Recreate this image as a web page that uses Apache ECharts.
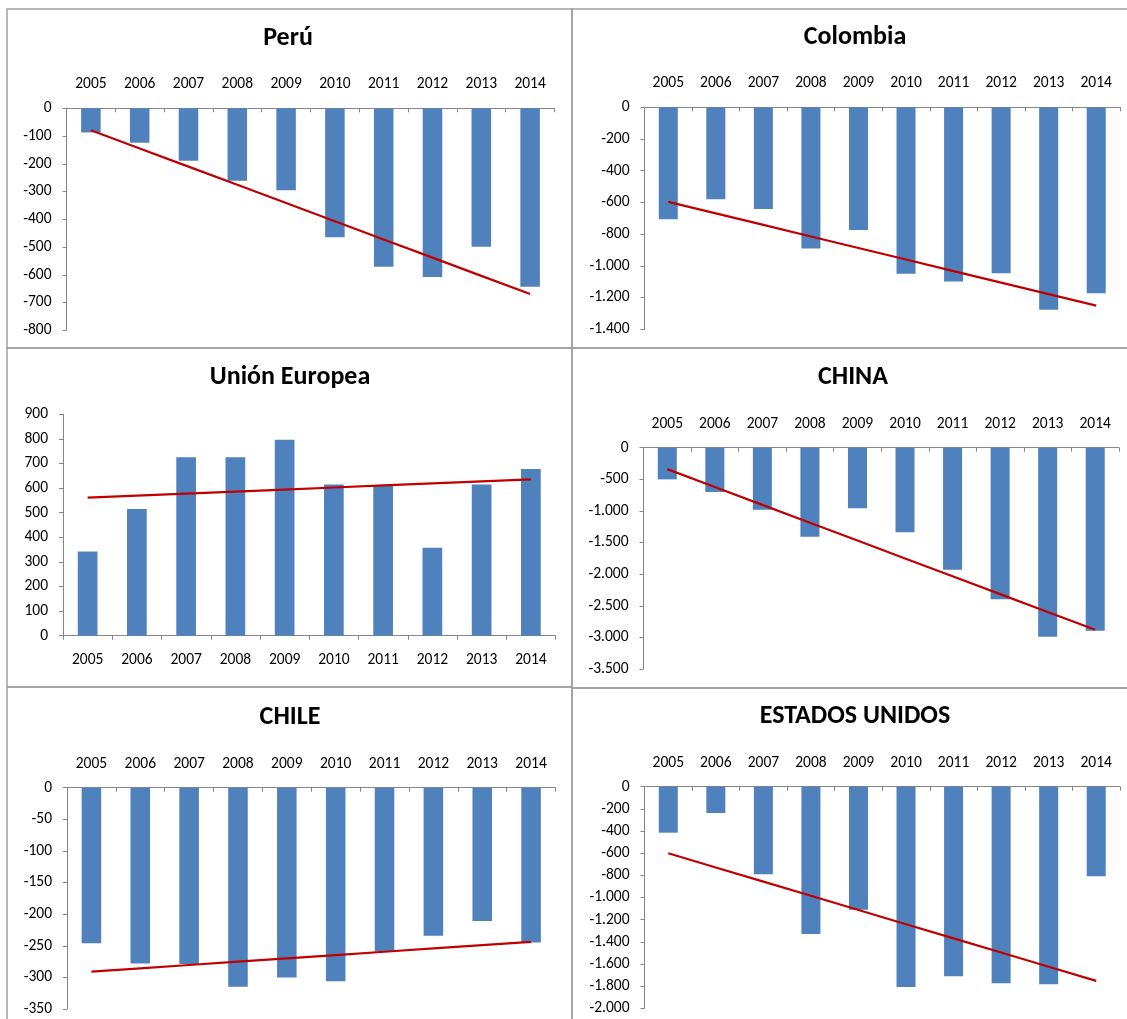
<!DOCTYPE html>
<html>
<head>
<meta charset="utf-8">
<title>Balanza comercial 2005-2014</title>
<script src="https://cdn.jsdelivr.net/npm/echarts@6/dist/echarts.min.js"></script>
<style>
  html, body { margin: 0; padding: 0; background: #ffffff; }
  #chart { width: 1127px; height: 1019px; }
</style>
</head>
<body>
<div id="chart"></div>
<script>
// Years shown on every category axis
const years = ['2005', '2006', '2007', '2008', '2009', '2010', '2011', '2012', '2013', '2014'];

// Balance per partner, one value per year
const peru          = [-87, -124, -189, -261, -295, -465, -571, -608, -499, -643];
const colombia      = [-706, -580, -641, -891, -774, -1049, -1099, -1047, -1276, -1173];
const unionEuropea  = [342, 515, 725, 725, 797, 615, 613, 358, 615, 678];
const china         = [-501, -701, -980, -1407, -959, -1339, -1929, -2398, -2989, -2894];
const chile         = [-246, -278, -279, -315, -300, -306, -259, -234, -211, -245];
const estadosUnidos = [-415, -238, -791, -1329, -1110, -1808, -1711, -1774, -1783, -809];

// Value-axis ranges: [min, max, step]
const peruAxis          = [-800, 0, 100];
const colombiaAxis      = [-1400, 0, 200];
const unionEuropeaAxis  = [0, 900, 100];
const chinaAxis         = [-3500, 0, 500];
const chileAxis         = [-350, 0, 50];
const estadosUnidosAxis = [-2000, 0, 200];

const panelTitles = ['Perú', 'Colombia', 'Unión Europea', 'CHINA', 'CHILE', 'ESTADOS UNIDOS'];

// Linear least-squares trendline evaluated at each category
function linearTrend(values) {
  const n = values.length;
  let sx = 0, sy = 0, sxy = 0, sxx = 0;
  values.forEach((v, i) => { sx += i; sy += v; sxy += i * v; sxx += i * i; });
  const slope = (n * sxy - sx * sy) / (n * sxx - sx * sx);
  const icpt = (sy - slope * sx) / n;
  return values.map((_, i) => +(icpt + slope * i).toFixed(2));
}

// Spanish thousands separator: -1.200
function fmt(v) {
  const s = Math.abs(v).toString().replace(/\B(?=(\d{3})+(?!\d))/g, '.');
  return (v < 0 ? '-' : '') + s;
}

const FONT = 'Calibri, Carlito, Lato, sans-serif';
const AXIS_GRAY = '#868686';
const BAR_BLUE = '#4F81BD';
const TREND_RED = '#C00000';
const FRAME_GRAY = '#A0A0A0';
const LABEL_SIZE = 15.5;
const TITLE_SIZE = 26;

const panels = [
  { data: peru,          axis: peruAxis,          grid: { left: 66.5,  top: 108.3, width: 488,   height: 222 },   title: [288, 25], frame: [7, 9, 565, 339] },
  { data: colombia,      axis: colombiaAxis,      grid: { left: 644.5, top: 107.3, width: 475.5, height: 222 },   title: [855, 24], frame: [572, 9, 560, 339] },
  { data: unionEuropea,  axis: unionEuropeaAxis,  grid: { left: 63,    top: 414.3, width: 492.5, height: 221.4 }, title: [290, 364], frame: [7, 348, 565, 339] },
  { data: china,         axis: chinaAxis,         grid: { left: 643.5, top: 447.7, width: 475.5, height: 221.3 }, title: [853, 364], frame: [572, 348, 560, 340] },
  { data: chile,         axis: chileAxis,         grid: { left: 67,    top: 787.7, width: 488.5, height: 221.3 }, title: [290, 704], frame: [7, 687, 565, 345] },
  { data: estadosUnidos, axis: estadosUnidosAxis, grid: { left: 644.5, top: 786.7, width: 475.5, height: 221.6 }, title: [855, 703], frame: [572, 688, 560, 345] }
];

const option = {
  animation: false,
  backgroundColor: '#ffffff',
  textStyle: { fontFamily: FONT },
  title: [], grid: [], xAxis: [], yAxis: [], series: [],
  graphic: []
};

panels.forEach((p, i) => {
  const [min, max, step] = p.axis;
  const allNegative = max <= 0;

  option.graphic.push({
    type: 'rect', silent: true, z: -1,
    shape: { x: p.frame[0], y: p.frame[1], width: p.frame[2], height: p.frame[3] },
    style: { fill: 'none', stroke: FRAME_GRAY, lineWidth: 1.5 }
  });

  option.title.push({
    text: panelTitles[i],
    left: p.title[0], top: p.title[1],
    textAlign: 'center', padding: 0,
    textStyle: { fontFamily: FONT, fontSize: TITLE_SIZE, fontWeight: 'bold', color: '#000000' }
  });

  option.grid.push(Object.assign({ containLabel: false }, p.grid));

  option.xAxis.push({
    type: 'category', gridIndex: i, data: years,
    position: allNegative ? 'top' : 'bottom',
    boundaryGap: true,
    axisLine: { show: true, onZero: true, lineStyle: { color: AXIS_GRAY, width: 1 } },
    axisTick: { show: true, inside: allNegative, length: 4, lineStyle: { color: AXIS_GRAY } },
    axisLabel: { margin: 16, color: '#000000', fontSize: LABEL_SIZE, fontFamily: FONT, interval: 0 },
    splitLine: { show: false }
  });

  option.yAxis.push({
    type: 'value', gridIndex: i, min: min, max: max, interval: step,
    axisLine: { show: true, lineStyle: { color: AXIS_GRAY, width: 1 } },
    axisTick: { show: true, inside: false, length: 4, lineStyle: { color: AXIS_GRAY } },
    axisLabel: { margin: 15, color: '#000000', fontSize: LABEL_SIZE, fontFamily: FONT, formatter: fmt },
    splitLine: { show: false }
  });

  option.series.push({
    type: 'bar', xAxisIndex: i, yAxisIndex: i,
    data: p.data,
    barCategoryGap: '60%',
    itemStyle: { color: BAR_BLUE },
    z: 2
  });

  option.series.push({
    type: 'line', xAxisIndex: i, yAxisIndex: i,
    data: linearTrend(p.data),
    symbol: 'none',
    lineStyle: { color: TREND_RED, width: 2.2 },
    z: 3
  });
});

const chart = echarts.init(document.getElementById('chart'), null, { renderer: 'canvas' });
chart.setOption(option);
</script>
</body>
</html>
